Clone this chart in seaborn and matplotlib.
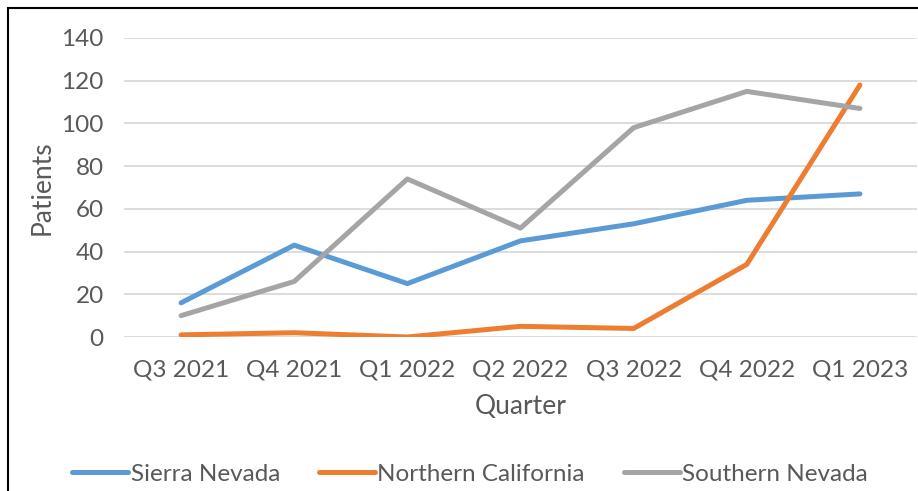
import matplotlib
matplotlib.use("Agg")
import matplotlib.pyplot as plt
import seaborn as sns
import pandas as pd
from matplotlib.patches import Rectangle
from matplotlib.lines import Line2D

quarters = ["Q3 2021", "Q4 2021", "Q1 2022", "Q2 2022", "Q3 2022", "Q4 2022", "Q1 2023"]
sierra_nevada = [16, 43, 25, 45, 53, 64, 67]
northern_california = [1, 2, 0, 5, 4, 34, 118]
southern_nevada = [10, 26, 74, 51, 98, 115, 107]
series_names = ["Sierra Nevada", "Northern California", "Southern Nevada"]
yticks = [0, 20, 40, 60, 80, 100, 120, 140]

rows = []
for name, vals in zip(series_names, [sierra_nevada, northern_california, southern_nevada]):
    for i, (q, v) in enumerate(zip(quarters, vals)):
        rows.append({"Quarter": q, "idx": i, "Patients": v, "Region": name})
df = pd.DataFrame(rows)

sns.set_theme(style="white")
plt.rcParams["font.family"] = ["Lato", "DejaVu Sans"]

W, H = 918, 491
fig = plt.figure(figsize=(W / 100, H / 100), dpi=100)
ax = fig.add_axes([124.5 / W, 1 - 337 / H, (916.5 - 124.5) / W, (337 - 38) / H])

palette = {"Sierra Nevada": "#5B9BD5", "Northern California": "#ED7D31", "Southern Nevada": "#A5A5A5"}
sns.lineplot(data=df, x="idx", y="Patients", hue="Region", hue_order=series_names,
             palette=palette, linewidth=3.6, ax=ax, legend=False, zorder=3)
for ln in ax.lines:
    ln.set_solid_capstyle("round")
    ln.set_solid_joinstyle("round")

ax.set_xlim(-0.5, len(quarters) - 0.5)
ax.set_ylim(0, 140)
ax.set_yticks(yticks)
ax.set_yticklabels([str(t) for t in yticks])
ax.set_xticks(range(len(quarters)))
ax.set_xticklabels(quarters)
ax.grid(axis="y", color="#D9D9D9", linewidth=1.3, zorder=0)
ax.grid(axis="x", visible=False)
for s in ax.spines.values():
    s.set_visible(False)
ax.tick_params(axis="both", length=0, labelsize=17.5, labelcolor="#595959")
ax.tick_params(axis="y", pad=15)
ax.tick_params(axis="x", pad=16)
ax.set_xlabel("Quarter", fontsize=19, color="#595959", labelpad=10)
ax.set_ylabel("Patients", fontsize=19, color="#595959", labelpad=5)

handles = [Line2D([], [], color=palette[n], linewidth=3.6, solid_capstyle="round") for n in series_names]
leg = fig.legend(handles, series_names, loc="center", bbox_to_anchor=(470 / W, 1 - 474 / H),
                 ncol=3, frameon=False, fontsize=17.5, handlelength=2.3, handletextpad=0.1,
                 columnspacing=1.6, borderpad=0)
for t in leg.get_texts():
    t.set_color("#595959")

# outer frame (only left and top edges visible in the crop)
fig.patches.append(Rectangle((8 / W, -0.05), 1.2, 1 - 8.5 / H + 0.05, transform=fig.transFigure,
                             fill=False, edgecolor="black", linewidth=1.5))

fig.savefig("out.png", dpi=100)
